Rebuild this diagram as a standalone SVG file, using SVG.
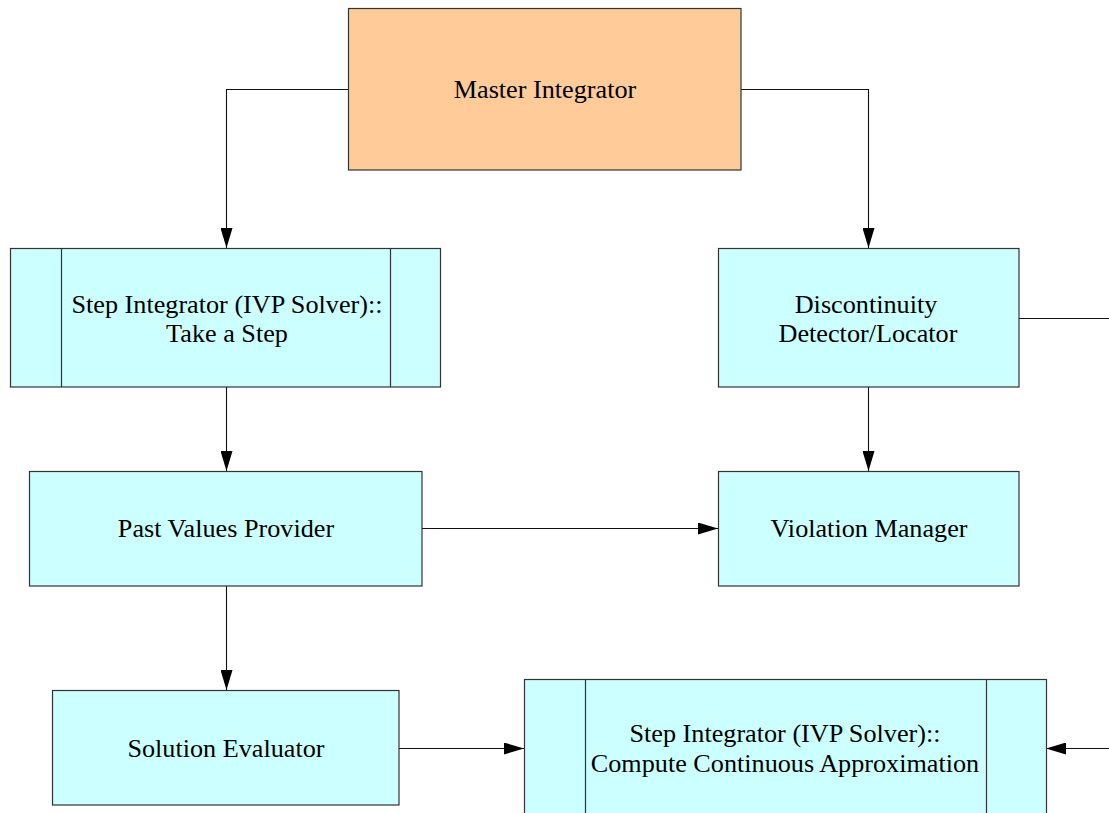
<svg xmlns="http://www.w3.org/2000/svg" width="1109" height="813" viewBox="0 0 1109 813">
<style>
.box{fill:#CCFFFF;stroke:#333;stroke-width:1.2}
.orange{fill:#FFCC99;stroke:#333;stroke-width:1.2}
.bar{fill:none;stroke:#333;stroke-width:1.2}
.edge{fill:none;stroke:#111;stroke-width:1.1}
text{font-family:"Liberation Serif","Times New Roman",serif;font-size:26.2px;fill:#000;text-anchor:middle}
</style>
<defs>
<marker id="arr" markerUnits="userSpaceOnUse" markerWidth="20" markerHeight="12" refX="20" refY="6" orient="auto">
<path d="M0,0 L20,6 L0,12 Z" fill="#000"/>
</marker>
</defs>
<rect width="1109" height="813" fill="#fff"/>
<g id="connectors">
<path class="edge" d="M348,89.5 H226.5 V248" marker-end="url(#arr)"/>
<path class="edge" d="M741,89.5 H868.5 V248" marker-end="url(#arr)"/>
<path class="edge" d="M226.5,387 V471" marker-end="url(#arr)"/>
<path class="edge" d="M868.5,387 V471" marker-end="url(#arr)"/>
<path class="edge" d="M1019,318.5 H1109"/>
<path class="edge" d="M422,528.5 H718" marker-end="url(#arr)"/>
<path class="edge" d="M226.5,586 V690" marker-end="url(#arr)"/>
<path class="edge" d="M399,748.5 H524" marker-end="url(#arr)"/>
<path class="edge" d="M1109,748.5 H1046" marker-end="url(#arr)"/>
</g>
<g id="master">
<rect class="orange" x="348.5" y="8.5" width="392.5" height="161.5"/>
<text x="545" y="98">Master Integrator</text>
</g>
<g id="take-step">
<rect class="box" x="10.5" y="248.5" width="430" height="138.5"/>
<line class="bar" x1="61.5" y1="248.5" x2="61.5" y2="387"/>
<line class="bar" x1="390.5" y1="248.5" x2="390.5" y2="387"/>
<text x="227" y="313">Step Integrator (IVP Solver)::</text>
<text x="227" y="342">Take a Step</text>
</g>
<g id="discontinuity">
<rect class="box" x="718.5" y="248.5" width="300.5" height="138.5"/>
<text x="866" y="313">Discontinuity</text>
<text x="868" y="342">Detector/Locator</text>
</g>
<g id="past-values">
<rect class="box" x="29.5" y="471.5" width="392.5" height="114.5"/>
<text x="226" y="537">Past Values Provider</text>
</g>
<g id="violation">
<rect class="box" x="718.5" y="471.5" width="300.5" height="114.5"/>
<text x="869" y="537">Violation Manager</text>
</g>
<g id="solution">
<rect class="box" x="52.5" y="690.5" width="346.5" height="114.5"/>
<text x="226" y="757">Solution Evaluator</text>
</g>
<g id="compute">
<rect class="box" x="524.5" y="679.5" width="522" height="150"/>
<line class="bar" x1="585.5" y1="679.5" x2="585.5" y2="830"/>
<line class="bar" x1="986.5" y1="679.5" x2="986.5" y2="830"/>
<text x="785" y="742">Step Integrator (IVP Solver)::</text>
<text x="785" y="772">Compute Continuous Approximation</text>
</g>
</svg>
